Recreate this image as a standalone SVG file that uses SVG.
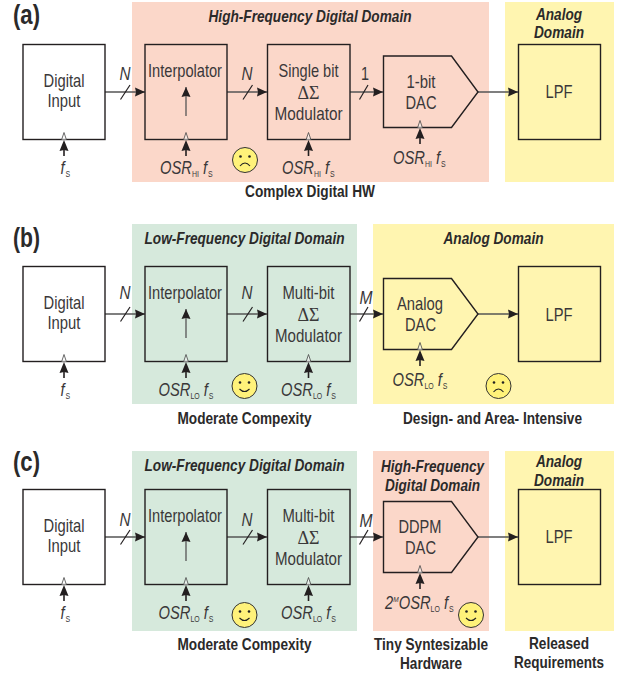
<svg xmlns="http://www.w3.org/2000/svg" xmlns:xlink="http://www.w3.org/1999/xlink" width="622" height="675" viewBox="0 0 622 675">
<style>
text{font-family:"Liberation Sans",Arial,sans-serif;fill:#3a3839;text-anchor:middle;font-size:18.5px}
.bi{font-weight:bold;font-style:italic;font-size:17px;fill:#2b2a2a}
.b{font-weight:bold;font-size:16.5px;fill:#2b2a2a}
.i{font-style:italic}
.h{font-weight:bold;font-size:27px;text-anchor:start;fill:#2b2a2a}
.ds{font-family:"Liberation Serif",serif;font-size:18px}
.f{text-anchor:start;font-size:18px}
.s{font-size:8.500px;font-style:normal}
.sup{font-size:8px;font-style:italic}
.box{fill:none;stroke:#231f20;stroke-width:1.4}
.pink{fill:#fbd7c9}.yel{fill:#fff5b0}.grn{fill:#d6e9dc}
.wire{fill:none;stroke:#555;stroke-width:1.3}
.sl{stroke:#231f20;stroke-width:1.2}
.face{fill:#fff27a;stroke:#333;stroke-width:1}
.mouth{fill:none;stroke:#222;stroke-width:1.1}
</style>
<defs>
<marker id="ah" markerUnits="userSpaceOnUse" markerWidth="11" markerHeight="10" refX="10" refY="5" orient="auto"><path d="M0 0.500L10 5L0 9.500L1 5Z" fill="#231f20"/></marker>
<g id="clk"><path d="M-2.500 8L0 0.500L2.500 8" fill="#fff" fill-opacity=".5" stroke="#444" stroke-width=".8"/><path d="M0 8L4.500 19L0 18L-4.500 19Z" fill="#231f20"/><path d="M0 18V24" stroke="#231f20" stroke-width="1.600"/></g>
<g id="smile"><circle class="face" r="12.500"/><circle cx="-4.500" cy="-3.500" r="1.300" fill="#222"/><circle cx="4.500" cy="-3.500" r="1.300" fill="#222"/><path class="mouth" d="M-5 3Q0 8 5 3"/></g>
<g id="frown"><circle class="face" r="12.500"/><circle cx="-4.500" cy="-3.500" r="1.300" fill="#222"/><circle cx="4.500" cy="-3.500" r="1.300" fill="#222"/><path class="mouth" d="M-5 6Q0 0 5 6"/></g>
</defs>
<g id="panels">
<rect class="pink" x="132" y="2" width="357" height="180"/><rect class="yel" x="505" y="2" width="109" height="180"/>
<rect class="grn" x="132" y="224" width="225" height="180"/><rect class="yel" x="373" y="224" width="241" height="180"/>
<rect class="grn" x="132" y="451" width="225" height="180"/><rect class="pink" x="373" y="451" width="116" height="180"/><rect class="yel" x="505" y="451" width="109" height="180"/>
</g>
<g id="connectors">
<path class="wire" marker-end="url(#ah)" d="M105 92H145"/><path class="sl" d="M120.500 99.500L130 85"/>
<path class="wire" marker-end="url(#ah)" d="M227 92H267"/><path class="sl" d="M243 99.500L252.500 85"/>
<path class="wire" marker-end="url(#ah)" d="M350 92H383"/><path class="sl" d="M359.500 99.500L368 85"/>
<path class="wire" marker-end="url(#ah)" d="M478 92H518"/>
<path class="wire" marker-end="url(#ah)" d="M186 116V87"/>
<path class="wire" marker-end="url(#ah)" d="M105 314H145"/><path class="sl" d="M120.500 321.500L130 307"/>
<path class="wire" marker-end="url(#ah)" d="M227 314H267"/><path class="sl" d="M243 321.500L252.500 307"/>
<path class="wire" marker-end="url(#ah)" d="M350 314H383"/><path class="sl" d="M359.500 321.500L368 307"/>
<path class="wire" marker-end="url(#ah)" d="M478 314H518"/>
<path class="wire" marker-end="url(#ah)" d="M186 338V309"/>
<path class="wire" marker-end="url(#ah)" d="M105 537H145"/><path class="sl" d="M120.500 544.500L130 530"/>
<path class="wire" marker-end="url(#ah)" d="M227 537H267"/><path class="sl" d="M243 544.500L252.500 530"/>
<path class="wire" marker-end="url(#ah)" d="M350 537H383"/><path class="sl" d="M359.500 544.500L368 530"/>
<path class="wire" marker-end="url(#ah)" d="M478 537H518"/>
<path class="wire" marker-end="url(#ah)" d="M186 561V532"/>
</g>
<g id="row-a">
<text class="h" x="13" y="24" textLength="27" lengthAdjust="spacingAndGlyphs">(a)</text>
<text class="bi" x="310" y="22" textLength="203" lengthAdjust="spacingAndGlyphs">High-Frequency Digital Domain</text>
<text class="bi" x="559" y="19.500" textLength="46" lengthAdjust="spacingAndGlyphs">Analog</text>
<text class="bi" x="559" y="38" textLength="50" lengthAdjust="spacingAndGlyphs">Domain</text>
<text class="b" x="310" y="197" textLength="130" lengthAdjust="spacingAndGlyphs">Complex Digital HW</text>
<text class="i" x="125" y="80" textLength="11" lengthAdjust="spacingAndGlyphs">N</text><text class="i" x="247" y="80" textLength="11" lengthAdjust="spacingAndGlyphs">N</text><text x="365" y="80" textLength="8" lengthAdjust="spacingAndGlyphs">1</text>
<use xlink:href="#frown" x="245" y="160"/>
<g id="a-input"><rect class="box" x="23" y="44.500" width="82" height="95"/><text x="64" y="87" textLength="41" lengthAdjust="spacingAndGlyphs">Digital</text><text x="64" y="107" textLength="33" lengthAdjust="spacingAndGlyphs">Input</text><use xlink:href="#clk" x="64" y="132"/><text class="f i" transform="translate(60.500 174) scale(.82 1)">f<tspan class="s" dy="3" dx="1">S</tspan></text></g>
<g id="a-interp"><rect class="box" x="145" y="44.500" width="82" height="95"/><text x="185" y="77" textLength="74" lengthAdjust="spacingAndGlyphs">Interpolator</text><use xlink:href="#clk" x="186" y="132"/><text class="f i" transform="translate(160 174) scale(.82 1)">OSR<tspan class="s" dy="3">HI</tspan><tspan dy="-3" dx="5">f</tspan><tspan class="s" dy="3" dx="1">S</tspan></text></g>
<g id="a-mod"><rect class="box" x="267.500" y="44.500" width="82.500" height="95"/><text x="308.500" y="77" textLength="60" lengthAdjust="spacingAndGlyphs">Single bit</text><text class="ds" x="308.500" y="99">ΔΣ</text><text x="308.500" y="120" textLength="68" lengthAdjust="spacingAndGlyphs">Modulator</text><use xlink:href="#clk" x="308.500" y="132"/><text class="f i" transform="translate(282 174) scale(.82 1)">OSR<tspan class="s" dy="3">HI</tspan><tspan dy="-3" dx="5">f</tspan><tspan class="s" dy="3" dx="1">S</tspan></text></g>
<g id="a-dac"><path class="box" d="M383.500 56H451.500L478 92L451.500 127.500H383.500Z"/><text x="421" y="88" textLength="29" lengthAdjust="spacingAndGlyphs">1-bit</text><text x="421" y="109" textLength="31" lengthAdjust="spacingAndGlyphs">DAC</text><use xlink:href="#clk" x="420" y="120"/><text class="f i" transform="translate(393 164) scale(.82 1)">OSR<tspan class="s" dy="3">HI</tspan><tspan dy="-3" dx="5">f</tspan><tspan class="s" dy="3" dx="1">S</tspan></text></g>
<g id="a-lpf"><rect class="box" x="518.500" y="44.500" width="82" height="95"/><text x="559" y="98" textLength="27" lengthAdjust="spacingAndGlyphs">LPF</text></g>
</g>
<g id="row-b">
<text class="h" x="13" y="246.500" textLength="27" lengthAdjust="spacingAndGlyphs">(b)</text>
<text class="bi" x="244.500" y="244" textLength="200" lengthAdjust="spacingAndGlyphs">Low-Frequency Digital Domain</text>
<text class="bi" x="493.500" y="244" textLength="100" lengthAdjust="spacingAndGlyphs">Analog Domain</text>
<text class="b" x="244.500" y="424" textLength="134" lengthAdjust="spacingAndGlyphs">Moderate Compexity</text>
<text class="b" x="492.500" y="423.500" textLength="179" lengthAdjust="spacingAndGlyphs">Design- and Area- Intensive</text>
<text class="i" x="125" y="299" textLength="11" lengthAdjust="spacingAndGlyphs">N</text><text class="i" x="247" y="299" textLength="11" lengthAdjust="spacingAndGlyphs">N</text><text class="i" x="366" y="304" textLength="13" lengthAdjust="spacingAndGlyphs">M</text>
<use xlink:href="#smile" x="244.500" y="386"/><use xlink:href="#frown" x="498.500" y="386"/>
<g id="b-input"><rect class="box" x="23" y="266.500" width="82" height="95"/><text x="64" y="309" textLength="41" lengthAdjust="spacingAndGlyphs">Digital</text><text x="64" y="329" textLength="33" lengthAdjust="spacingAndGlyphs">Input</text><use xlink:href="#clk" x="64" y="354"/><text class="f i" transform="translate(60.500 396) scale(.82 1)">f<tspan class="s" dy="3" dx="1">S</tspan></text></g>
<g id="b-interp"><rect class="box" x="145" y="266.500" width="82" height="95"/><text x="185" y="298.500" textLength="74" lengthAdjust="spacingAndGlyphs">Interpolator</text><use xlink:href="#clk" x="186" y="354"/><text class="f i" transform="translate(158.500 396) scale(.82 1)">OSR<tspan class="s" dy="3">LO</tspan><tspan dy="-3" dx="5">f</tspan><tspan class="s" dy="3" dx="1">S</tspan></text></g>
<g id="b-mod"><rect class="box" x="267.500" y="266.500" width="82.500" height="95"/><text x="308.500" y="298.500" textLength="52" lengthAdjust="spacingAndGlyphs">Multi-bit</text><text class="ds" x="308.500" y="321">ΔΣ</text><text x="308.500" y="342" textLength="67" lengthAdjust="spacingAndGlyphs">Modulator</text><use xlink:href="#clk" x="308.500" y="354"/><text class="f i" transform="translate(281 396) scale(.82 1)">OSR<tspan class="s" dy="3">LO</tspan><tspan dy="-3" dx="5">f</tspan><tspan class="s" dy="3" dx="1">S</tspan></text></g>
<g id="b-dac"><path class="box" d="M383.500 278.500H451.500L478 314L451.500 349.500H383.500Z"/><text x="420" y="310" textLength="46" lengthAdjust="spacingAndGlyphs">Analog</text><text x="420.500" y="331" textLength="31" lengthAdjust="spacingAndGlyphs">DAC</text><use xlink:href="#clk" x="420" y="342"/><text class="f i" transform="translate(392.500 386) scale(.82 1)">OSR<tspan class="s" dy="3">LO</tspan><tspan dy="-3" dx="5">f</tspan><tspan class="s" dy="3" dx="1">S</tspan></text></g>
<g id="b-lpf"><rect class="box" x="518.500" y="266.500" width="82" height="95"/><text x="559" y="320.500" textLength="27" lengthAdjust="spacingAndGlyphs">LPF</text></g>
</g>
<g id="row-c">
<text class="h" x="13" y="471" textLength="27" lengthAdjust="spacingAndGlyphs">(c)</text>
<text class="bi" x="244.500" y="471" textLength="200" lengthAdjust="spacingAndGlyphs">Low-Frequency Digital Domain</text>
<text class="bi" x="432.500" y="472" textLength="103" lengthAdjust="spacingAndGlyphs">High-Frequency</text>
<text class="bi" x="432.500" y="491" textLength="95" lengthAdjust="spacingAndGlyphs">Digital Domain</text>
<text class="bi" x="559" y="467" textLength="46" lengthAdjust="spacingAndGlyphs">Analog</text>
<text class="bi" x="559" y="485.500" textLength="50" lengthAdjust="spacingAndGlyphs">Domain</text>
<text class="b" x="244.500" y="649.500" textLength="134" lengthAdjust="spacingAndGlyphs">Moderate Compexity</text>
<text class="b" x="431" y="650" textLength="114" lengthAdjust="spacingAndGlyphs">Tiny Syntesizable</text>
<text class="b" x="431" y="668.500" textLength="62" lengthAdjust="spacingAndGlyphs">Hardware</text>
<text class="b" x="559" y="648.500" textLength="60" lengthAdjust="spacingAndGlyphs">Released</text>
<text class="b" x="559" y="667.500" textLength="90" lengthAdjust="spacingAndGlyphs">Requirements</text>
<text class="i" x="125" y="526" textLength="11" lengthAdjust="spacingAndGlyphs">N</text><text class="i" x="247" y="526" textLength="11" lengthAdjust="spacingAndGlyphs">N</text><text class="i" x="366" y="526.500" textLength="13" lengthAdjust="spacingAndGlyphs">M</text>
<use xlink:href="#smile" x="244.500" y="615"/><use xlink:href="#smile" x="471" y="615"/>
<g id="c-input"><rect class="box" x="23" y="489.500" width="82" height="95"/><text x="64" y="532" textLength="41" lengthAdjust="spacingAndGlyphs">Digital</text><text x="64" y="552" textLength="33" lengthAdjust="spacingAndGlyphs">Input</text><use xlink:href="#clk" x="64" y="577"/><text class="f i" transform="translate(60.500 619) scale(.82 1)">f<tspan class="s" dy="3" dx="1">S</tspan></text></g>
<g id="c-interp"><rect class="box" x="145" y="489.500" width="82" height="95"/><text x="185" y="522" textLength="74" lengthAdjust="spacingAndGlyphs">Interpolator</text><use xlink:href="#clk" x="186" y="577"/><text class="f i" transform="translate(158.500 619) scale(.82 1)">OSR<tspan class="s" dy="3">LO</tspan><tspan dy="-3" dx="5">f</tspan><tspan class="s" dy="3" dx="1">S</tspan></text></g>
<g id="c-mod"><rect class="box" x="267.500" y="489.500" width="82.500" height="95"/><text x="308.500" y="522" textLength="52" lengthAdjust="spacingAndGlyphs">Multi-bit</text><text class="ds" x="308.500" y="544">ΔΣ</text><text x="308.500" y="565" textLength="67" lengthAdjust="spacingAndGlyphs">Modulator</text><use xlink:href="#clk" x="308.500" y="577"/><text class="f i" transform="translate(281 619) scale(.82 1)">OSR<tspan class="s" dy="3">LO</tspan><tspan dy="-3" dx="5">f</tspan><tspan class="s" dy="3" dx="1">S</tspan></text></g>
<g id="c-dac"><path class="box" d="M383.500 501.500H451.500L478 537L451.500 572.500H383.500Z"/><text x="420" y="533" textLength="43" lengthAdjust="spacingAndGlyphs">DDPM</text><text x="420.500" y="554" textLength="31" lengthAdjust="spacingAndGlyphs">DAC</text><use xlink:href="#clk" x="420" y="565"/><text class="f i" transform="translate(385 608.500) scale(.82 1)">2<tspan class="sup" dy="-7">M</tspan><tspan dy="7">OSR</tspan><tspan class="s" dy="3">LO</tspan><tspan dy="-3" dx="5">f</tspan><tspan class="s" dy="3" dx="1">S</tspan></text></g>
<g id="c-lpf"><rect class="box" x="518.500" y="489.500" width="82" height="95"/><text x="559" y="543" textLength="27" lengthAdjust="spacingAndGlyphs">LPF</text></g>
</g>
</svg>
